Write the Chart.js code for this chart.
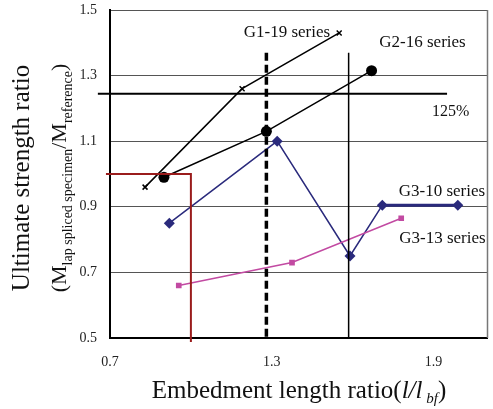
<!DOCTYPE html>
<html>
<head>
<meta charset="utf-8">
<script src="https://cdn.jsdelivr.net/npm/chart.js@4.4.0/dist/chart.umd.min.js"></script>
<style>
  body { margin: 0; background: #fff; }
  #wrap { width: 493px; height: 409px; }
</style>
</head>
<body>
<div id="wrap"><canvas id="myChart"></canvas></div>
<script>
// embedment length ratio (x) / ultimate strength ratio (y)
const g1_19_x = [0.83, 1.19, 1.55];
const g1_19_y = [0.96, 1.26, 1.43];
const g2_16_x = [0.90, 1.28, 1.67];
const g2_16_y = [0.99, 1.13, 1.315];
const g3_10_x = [0.92, 1.32, 1.59, 1.71, 1.99];
const g3_10_y = [0.85, 1.10, 0.75, 0.905, 0.905];
const g3_13_x = [0.955, 1.375, 1.78];
const g3_13_y = [0.66, 0.73, 0.865];

// reference lines
const line125_x = [0.655, 1.95];
const line125_y = [1.245, 1.245];
const dashed_x = [1.28, 1.28];
const dashed_y = [1.37, 0.5];
const solid_x = [1.585, 1.585];
const solid_y = [1.37, 0.5];
const red_x = [0.685, 1.0, 1.0];
const red_y = [1.0, 1.0, 0.488];

const xTicks = [0.7, 1.3, 1.9];
const yTicks = [0.5, 0.7, 0.9, 1.1, 1.3, 1.5];

// text labels inside the plot (data coords)
const noteText = ['G1-19 series', 'G2-16 series', '125%', 'G3-10 series', 'G3-13 series'];
const noteX = [1.356, 1.859, 1.963, 1.931, 1.933];
const noteY = [1.43, 1.40, 1.189, 0.948, 0.802];

const pts = (xs, ys) => xs.map((x, i) => ({ x: x, y: ys[i] }));

const SERIF = "'Liberation Serif', 'DejaVu Serif', serif";
const NAVY = '#2a2a7c';
const PINK = '#c24aa2';
const MAROON = '#9a1c1c';

const refLine = (xs, ys, color, width, dash) => ({
  data: pts(xs, ys),
  showLine: true,
  borderColor: color,
  borderWidth: width,
  borderDash: dash || [],
  pointRadius: 0,
  clip: false,
});

const data = {
  datasets: [
    refLine(red_x, red_y, MAROON, 2),
    refLine(solid_x, solid_y, '#000', 1.5),
    refLine(dashed_x, dashed_y, '#000', 3.5, [8, 4]),
    refLine(line125_x, line125_y, '#000', 2),
    {
      label: 'G3-13 series',
      data: pts(g3_13_x, g3_13_y),
      showLine: true,
      borderColor: PINK,
      backgroundColor: PINK,
      borderWidth: 1.5,
      pointStyle: 'rect',
      pointRadius: 4,
      pointBorderWidth: 0,
    },
    {
      label: 'G3-10 series',
      data: pts(g3_10_x, g3_10_y),
      showLine: true,
      borderColor: NAVY,
      backgroundColor: NAVY,
      borderWidth: 1.5,
      segment: { borderWidth: (c) => (c.p1DataIndex === 4 ? 3 : 1.5) },
      pointStyle: 'rectRot',
      pointRadius: 5.5,
      pointBorderWidth: 0,
    },
    {
      label: 'G2-16 series',
      data: pts(g2_16_x, g2_16_y),
      showLine: true,
      borderColor: '#000',
      backgroundColor: '#000',
      borderWidth: 1.5,
      pointStyle: 'circle',
      pointRadius: 5.5,
      pointBorderWidth: 0,
    },
    {
      label: 'G1-19 series',
      data: pts(g1_19_x, g1_19_y),
      showLine: true,
      borderColor: '#000',
      backgroundColor: '#000',
      borderWidth: 1.5,
      pointStyle: 'crossRot',
      pointRadius: 3.5,
      pointBorderWidth: 1.5,
    },
  ],
};

// draws a row of text pieces (for subscripts), centred on x,y
function drawRuns(ctx, parts, x, y, rotate) {
  ctx.save();
  ctx.translate(x, y);
  if (rotate) ctx.rotate(-Math.PI / 2);
  ctx.textAlign = 'left';
  ctx.textBaseline = 'alphabetic';
  ctx.fillStyle = '#111';
  let total = 0;
  parts.forEach((p) => {
    ctx.font = p.font;
    p.w = ctx.measureText(p.t).width;
    total += p.w;
  });
  let cx = -total / 2;
  parts.forEach((p) => {
    ctx.font = p.font;
    ctx.fillText(p.t, cx, p.dy || 0);
    cx += p.w;
  });
  ctx.restore();
}

const decor = {
  id: 'decor',
  beforeDatasetsDraw: (chart) => {
    const { ctx, chartArea } = chart;
    ctx.save();
    ctx.strokeStyle = '#777';
    ctx.lineWidth = 1.5;
    ctx.beginPath();
    ctx.moveTo(chartArea.right, chartArea.top);
    ctx.lineTo(chartArea.right, chartArea.bottom);
    ctx.stroke();
    ctx.restore();
  },
  afterDraw: (chart) => {
    const ctx = chart.ctx;
    const xs = chart.scales.x;
    const ys = chart.scales.y;
    ctx.save();
    ctx.fillStyle = '#111';
    ctx.textAlign = 'center';
    ctx.textBaseline = 'middle';
    noteText.forEach((t, i) => {
      ctx.font = (t === '125%' ? '16px ' : '17px ') + SERIF;
      ctx.fillText(t, xs.getPixelForValue(noteX[i]), ys.getPixelForValue(noteY[i]));
    });
    ctx.restore();

    const big = '25px ' + SERIF;
    drawRuns(ctx, [
      { t: 'Embedment length ratio(', font: big },
      { t: 'l/l', font: 'italic ' + big },
      { t: ' bf', font: 'italic 15px ' + SERIF, dy: 5 },
      { t: ')', font: big },
    ], 299, 398, false);

    drawRuns(ctx, [{ t: 'Ultimate strength ratio', font: big }], 29, 178, true);

    const mid = '22px ' + SERIF;
    const sub = '14px ' + SERIF;
    drawRuns(ctx, [
      { t: '(M', font: mid },
      { t: 'lap spliced specimen', font: sub, dy: 6 },
      { t: '/M', font: mid },
      { t: 'reference', font: sub, dy: 6 },
      { t: ')', font: mid },
    ], 66, 178, true);
  },
};

const config = {
  type: 'scatter',
  data: data,
  plugins: [decor],
  options: {
    responsive: true,
    maintainAspectRatio: false,
    animation: false,
    layout: { padding: { top: 10, right: 3, left: 0, bottom: 0 } },
    plugins: {
      legend: { display: false },
      tooltip: { enabled: false },
    },
    scales: {
      x: {
        type: 'linear',
        min: 0.7,
        max: 2.1,
        afterBuildTicks: (s) => { s.ticks = xTicks.map((v) => ({ value: v })); },
        afterFit: (s) => { s.height = 71; s.paddingLeft = 0; s.paddingRight = 0; },
        grid: { drawOnChartArea: false, drawTicks: false },
        border: { color: '#000', width: 2 },
        ticks: {
          color: '#222',
          padding: 16,
          font: { family: SERIF, size: 14 },
          callback: (v) => Number(v).toFixed(1),
        },
      },
      y: {
        type: 'linear',
        min: 0.5,
        max: 1.5,
        afterBuildTicks: (s) => { s.ticks = yTicks.map((v) => ({ value: v })); },
        afterFit: (s) => { s.width = 110; s.paddingTop = 0; s.paddingBottom = 0; },
        grid: { color: '#555', lineWidth: 1, drawTicks: false },
        border: { color: '#000', width: 2 },
        ticks: {
          color: '#222',
          padding: 13,
          font: { family: SERIF, size: 14 },
          callback: (v) => Number(v).toFixed(1),
        },
      },
    },
  },
};

const myChart = new Chart(document.getElementById('myChart'), config);
</script>
</body>
</html>
